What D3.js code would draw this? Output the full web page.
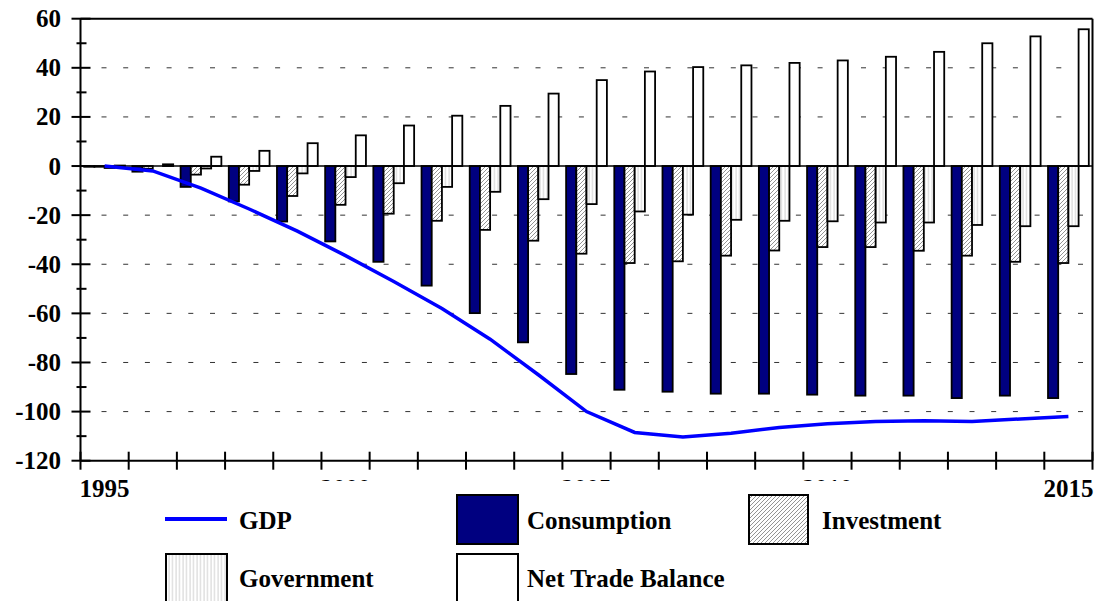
<!DOCTYPE html>
<html>
<head>
<meta charset="utf-8">
<script src="https://cdn.jsdelivr.net/npm/d3@7"></script>
<style>
  html, body { margin: 0; padding: 0; background: #fff; }
  svg { display: block; }
</style>
</head>
<body>
<svg id="chart" width="1099" height="601"></svg>
<script>
const years = [1995,1996,1997,1998,1999,2000,2001,2002,2003,2004,2005,2006,2007,2008,2009,2010,2011,2012,2013,2014,2015];
const gdp = [0,-2,-9,-17.5,-26.5,-36.5,-47,-58,-70.5,-85,-100,-108.5,-110.3,-108.8,-106.5,-105,-104,-103.7,-104,-103,-102];
const consumption = [-0.3,-2.3,-8.5,-14.4,-22.6,-30.7,-39,-48.7,-59.9,-71.8,-84.7,-91.1,-91.9,-92.7,-92.7,-93.1,-93.5,-93.5,-94.5,-93.5,-94.5];
const investment = [-0.3,-1.1,-3.5,-7.6,-12.2,-15.8,-19.4,-22.3,-26,-30.4,-35.7,-39.5,-38.8,-36.5,-34.4,-33,-33,-34.5,-36.5,-39,-39.5];
const government = [-0.8,0,-1,-2,-3,-4.5,-7,-8.5,-10.5,-13.5,-15.5,-18.5,-19.8,-21.9,-22.3,-22.5,-23,-23,-24,-24.5,-24.5];
const netTrade = [0.2,0.7,3.8,6.2,9.3,12.5,16.5,20.5,24.5,29.5,35,38.5,40.3,41,42,43,44.5,46.5,50,52.8,55.7];
const yTicks = [60,40,20,0,-20,-40,-60,-80,-100,-120];
const xLabels = [1995,2000,2005,2010,2015];

const FONT = "'Liberation Serif', 'Times New Roman', serif";
const svg = d3.select("#chart");
const L = 80.5, R = 1092.5, T = 18.7, B = 460.7;

function txt(g, xx, yy, s, anchor) {
  return g.append("text").attr("x", xx).attr("y", yy)
    .attr("font-family", FONT).attr("font-weight", "bold").attr("font-size", 25)
    .attr("fill", "#000").attr("text-anchor", anchor || "start").text(s);
}

const defs = svg.append("defs");
const pInv = defs.append("pattern").attr("id","inv").attr("patternUnits","userSpaceOnUse").attr("width",4).attr("height",4);
pInv.append("rect").attr("width",4).attr("height",4).attr("fill","#fff");
pInv.append("path").attr("d","M-1,1 l2,-2 M0,4 l4,-4 M3,5 l2,-2").attr("stroke","#666").attr("stroke-width",0.7);
const pGov = defs.append("pattern").attr("id","gov").attr("patternUnits","userSpaceOnUse").attr("width",3.5).attr("height",10);
pGov.append("rect").attr("width",3.5).attr("height",10).attr("fill","#fff");
pGov.append("line").attr("x1",1).attr("x2",1).attr("y1",0).attr("y2",10).attr("stroke","#aaa").attr("stroke-width",0.6);

const y = d3.scaleLinear().domain([-120,60]).range([B,T]);
const x = d3.scaleBand().domain(years).range([L,R]).padding(0);
const bw = x.bandwidth();
const barW = (bw - 7.4) / 4;

// gridlines
const grid = svg.append("g");
yTicks.filter(v => v !== 60 && v !== -120 && v !== 0).forEach(v => {
  grid.append("line").attr("x1",L+21).attr("x2",R).attr("y1",y(v)).attr("y2",y(v))
    .attr("stroke","#333").attr("stroke-width",1).attr("stroke-dasharray","5,16.7");
});

// bars
const series = [
  {vals: consumption, fill: "#000080"},
  {vals: investment, fill: "url(#inv)"},
  {vals: government, fill: "url(#gov)"},
  {vals: netTrade, fill: "#fff"}
];
const bars = svg.append("g");
series.forEach((s, si) => {
  bars.selectAll(null).data(years).enter().append("rect")
    .attr("x", (d) => x(d) + 3.7 + si*barW)
    .attr("width", barW)
    .attr("y", (d,i) => Math.min(y(s.vals[i]), y(0)))
    .attr("height", (d,i) => Math.abs(y(s.vals[i]) - y(0)))
    .attr("fill", s.fill)
    .attr("stroke", "#000")
    .attr("stroke-width", 1.8);
});

// zero line
svg.append("line").attr("x1",L).attr("x2",R).attr("y1",y(0)).attr("y2",y(0)).attr("stroke","#000").attr("stroke-width",1.5);

// GDP line
const line = d3.line().x((d,i) => x(years[i]) + bw/2).y(d => y(d));
svg.append("path").datum(gdp).attr("d", line).attr("fill","none").attr("stroke","#0000ff").attr("stroke-width",3.5);

// frame
svg.append("line").attr("x1",L).attr("x2",R).attr("y1",T).attr("y2",T).attr("stroke","#000").attr("stroke-width",2);
svg.append("line").attr("x1",R).attr("x2",R).attr("y1",T).attr("y2",B).attr("stroke","#000").attr("stroke-width",2);

// y axis
const yAxisG = svg.append("g");
yAxisG.append("line").attr("x1",L).attr("x2",L).attr("y1",T).attr("y2",B).attr("stroke","#000").attr("stroke-width",2);
d3.range(-120, 61, 10).forEach(v => {
  const major = v % 20 === 0;
  yAxisG.append("line").attr("x1", major ? L-9 : L-4).attr("x2", major ? L+10 : L+6)
    .attr("y1", y(v)).attr("y2", y(v)).attr("stroke","#000").attr("stroke-width",2);
});
yTicks.forEach(v => { txt(yAxisG, 61, y(v) + 8.5, String(v), "end"); });

// x axis
const xAxisG = svg.append("g");
xAxisG.append("line").attr("x1",L).attr("x2",R).attr("y1",B).attr("y2",B).attr("stroke","#000").attr("stroke-width",2);
years.concat([2016]).forEach((yr, i) => {
  const px = L + i*bw;
  xAxisG.append("line").attr("x1",px).attr("x2",px).attr("y1",B-9).attr("y2",B+9).attr("stroke","#000").attr("stroke-width",2);
});
xLabels.forEach(v => { txt(xAxisG, x(v) + bw/2, 497, String(v), "middle"); });

// legend
const leg = svg.append("g");
leg.append("rect").attr("x",140).attr("y",481).attr("width",880).attr("height",120).attr("fill","#fff");
leg.append("line").attr("x1",165).attr("x2",227).attr("y1",519).attr("y2",519).attr("stroke","#0000ff").attr("stroke-width",4);
txt(leg, 239, 529, "GDP");
leg.append("rect").attr("x",457).attr("y",495).attr("width",61).attr("height",49).attr("fill","#000080").attr("stroke","#000").attr("stroke-width",2);
txt(leg, 527, 529, "Consumption");
leg.append("rect").attr("x",749).attr("y",495).attr("width",59).attr("height",49).attr("fill","url(#inv)").attr("stroke","#000").attr("stroke-width",2);
txt(leg, 822, 529, "Investment");
leg.append("rect").attr("x",166).attr("y",554).attr("width",61).attr("height",48).attr("fill","url(#gov)").attr("stroke","#000").attr("stroke-width",2);
txt(leg, 239, 587, "Government");
leg.append("rect").attr("x",457).attr("y",554).attr("width",61).attr("height",48).attr("fill","#fff").attr("stroke","#000").attr("stroke-width",2);
txt(leg, 527, 587, "Net Trade Balance");
</script>
</body>
</html>
